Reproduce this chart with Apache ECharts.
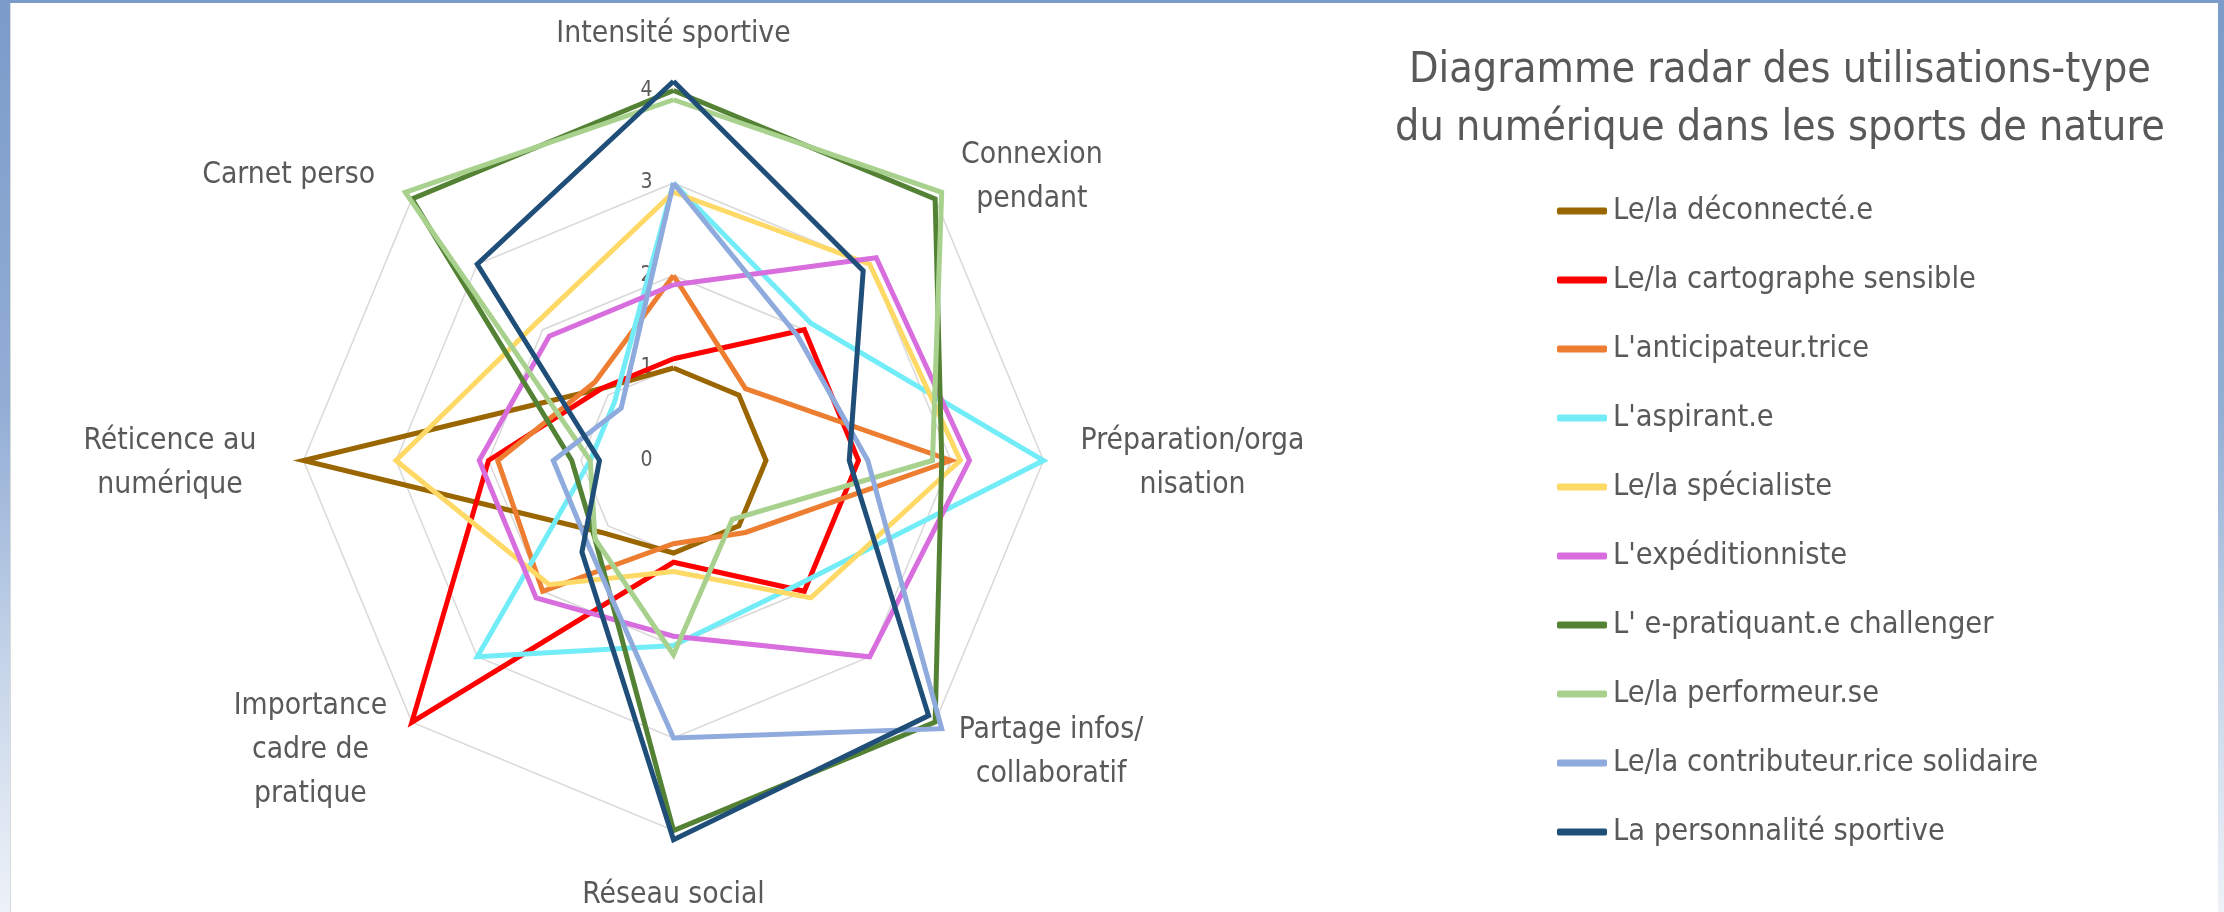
<!DOCTYPE html>
<html><head><meta charset="utf-8">
<script src="https://cdn.jsdelivr.net/npm/echarts@6/dist/echarts.min.js"></script>
<style>
html,body{margin:0;padding:0;width:2224px;height:912px;overflow:hidden;
background:linear-gradient(180deg,#7b9bc9 0%,#93aed5 45%,#c9d7ea 75%,#eef2f8 100%);}
#frame{position:absolute;left:10px;top:3px;width:2207px;height:909px;background:#fff;border-left:1px solid #d9d9d9;}
#chart{position:absolute;left:0;top:0;width:2207px;height:909px;}
</style></head><body><div id="frame"><div id="chart"></div></div>
<script>
// Axes, clockwise from the top (as in the original chart)
const axisNames = ['Intensité sportive', 'Connexion\npendant', 'Préparation/orga\nnisation',
  'Partage infos/\ncollaboratif', 'Réseau social', 'Importance\ncadre de\npratique',
  'Réticence au\nnumérique', 'Carnet perso'];
const axisMin = 0, axisMax = 4, axisSplits = 4;

const seriesNames = ['Le/la déconnecté.e', 'Le/la cartographe sensible', "L'anticipateur.trice",
  "L'aspirant.e", 'Le/la spécialiste', "L'expéditionniste", "L' e-pratiquant.e challenger",
  'Le/la performeur.se', 'Le/la contributeur.rice solidaire', 'La personnalité sportive'];

// values, clockwise from the top
const deconnecte     = [1.0, 1.0, 1.0, 1.0, 1.0, 1.1, 4.0, 1.1];
const cartographe    = [1.1, 2.0, 2.0, 2.0, 1.1, 4.0, 2.0, 1.1];
const anticipateur   = [2.0, 1.1, 3.0, 1.1, 0.9, 2.0, 1.9, 1.2];
const aspirant       = [3.0, 2.1, 4.0, 1.9, 2.0, 3.0, 0.9, 0.9];
const specialiste    = [2.9, 3.0, 3.1, 2.1, 1.2, 1.9, 3.0, 2.1];
const expedition     = [1.9, 3.1, 3.2, 3.0, 1.9, 2.1, 2.1, 1.9];
const epratiquant    = [4.0, 4.0, 2.9, 4.0, 4.0, 1.2, 1.1, 4.0];
const performeur     = [3.9, 4.1, 2.8, 0.9, 2.1, 1.2, 0.9, 4.1];
const contributeur   = [3.0, 1.9, 2.1, 4.1, 3.0, 1.3, 1.3, 0.8];
const personnalite   = [4.1, 2.9, 1.9, 3.9, 4.1, 1.4, 0.8, 3.0];
const allValues = [deconnecte, cartographe, anticipateur, aspirant, specialiste,
  expedition, epratiquant, performeur, contributeur, personnalite];

// styles
const colors = ['#9a6600', '#ff0000', '#ed7d31', '#72edf8', '#ffd966', '#d86ede',
  '#548235', '#a9d18e', '#8faadc', '#1f4e79'];
const nameGaps = [34, 35, 37, 38, 37, 36, 38, 37];
const nameBoxW = [0, 144, 224, 178, 0, 152, 191, 194];
const TXT = '#595959';

// ---- pick a condensed font if one is installed, size text to the original widths
const ctx = document.createElement('canvas').getContext('2d');
function mw(font, s) { ctx.font = '10px serif'; ctx.font = font; return ctx.measureText(s).width; }
const probe = 'du numérique dans les sports de nature';
function has(fam) {
  return mw('100px ' + fam + ', monospace', probe) !== mw('100px monospace', probe) ||
         mw('100px ' + fam + ', serif', probe) !== mw('100px serif', probe);
}
const cands = ["'Liberation Sans Narrow'", "'Arial Narrow'", "'DejaVu Sans Condensed'", "'Liberation Sans'"];
let pick = cands[cands.length - 1];
for (const c of cands) { if (has(c)) { pick = c; break; } }
const FONT = pick + ", 'Liberation Sans', sans-serif";
function sizeFor(text, target) { return target * 100 / mw('100px ' + FONT, text); }
const titleSize = sizeFor(probe, 770);
const legendSize = sizeFor('Le/la cartographe sensible', 363);
const nameSize = (sizeFor('Réticence au', 177) + sizeFor('Carnet perso', 177) +
  sizeFor('Intensité sportive', 228) + sizeFor('Importance', 151)) / 4;
const tickSize = 21;

// ECharts lays radar indicators counter-clockwise: reorder
const order = [0, 7, 6, 5, 4, 3, 2, 1];
const rich = {};
const keyOf = {};
axisNames.forEach((n, i) => {
  const k = 'n' + i; keyOf[n] = k;
  rich[k] = { fontFamily: FONT, fontSize: nameSize, color: TXT, lineHeight: 44, align: 'center' };
  if (nameBoxW[i]) rich[k].width = nameBoxW[i];
});
const indicator = order.map(i => {
  const o = { name: axisNames[i], min: axisMin, max: axisMax, nameGap: nameGaps[i] };
  if (i === 0) o.axisLabel = { show: true, showMinLabel: true, showMaxLabel: true,
    fontFamily: FONT, fontSize: tickSize, color: TXT, margin: 21 };
  return o;
});

const chart = echarts.init(document.getElementById('chart'), null, { renderer: 'canvas' });
chart.setOption({
  animation: false,
  color: colors,
  title: {
    text: 'Diagramme radar des utilisations-type\ndu numérique dans les sports de nature',
    left: 1769, top: 39, textAlign: 'center', padding: 0,
    textStyle: { fontFamily: FONT, fontSize: titleSize, fontWeight: 'normal', color: TXT, lineHeight: 58 }
  },
  legend: {
    orient: 'vertical', left: 1546, top: 188, itemGap: 29,
    itemWidth: 50, itemHeight: 7, icon: 'roundRect', padding: 0,
    textStyle: { fontFamily: FONT, fontSize: legendSize, color: TXT, lineHeight: 40, padding: [0, 0, 0, 1] },
    data: seriesNames
  },
  radar: {
    center: [662.5, 457.5], radius: 370, startAngle: 90, shape: 'polygon',
    splitNumber: axisSplits,
    indicator: indicator,
    axisName: {
      formatter: (name) => name.split('\n').map(l => '{' + keyOf[name] + '|' + l + '}').join('\n'),
      rich: rich, fontFamily: FONT, fontSize: nameSize, color: TXT, padding: [6, 0, 0, 0]
    },
    axisLine: { show: false },
    axisTick: { show: false },
    axisLabel: { show: false },
    splitLine: { lineStyle: { color: '#d9d9d9', width: 1.5 } },
    splitArea: { show: false }
  },
  series: seriesNames.map((nm, s) => ({
    type: 'radar', name: nm, symbol: 'none', z: 2 + s,
    lineStyle: { width: 5, join: 'miter' },
    data: [{ name: nm, value: order.map(i => allValues[s][i]) }]
  }))
});
</script></body></html>
